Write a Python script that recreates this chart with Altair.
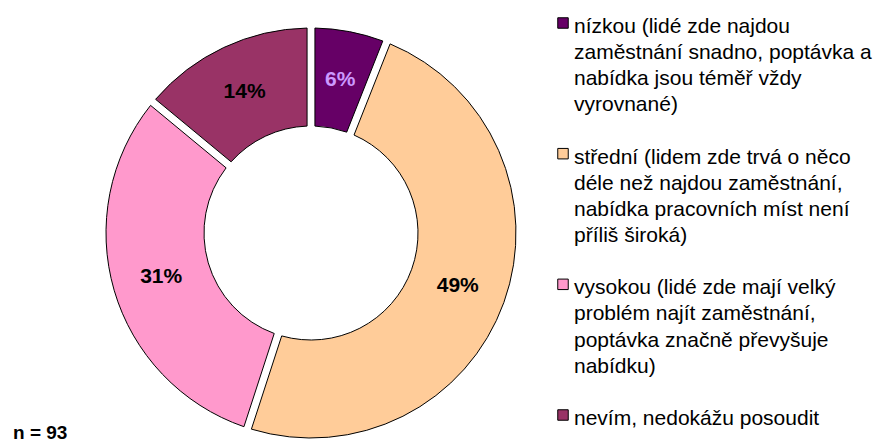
import altair as alt
import pandas as pd

categories = [
    "nízkou (lidé zde najdou|zaměstnání snadno, poptávka a|nabídka jsou téměř vždy|vyrovnané)",
    "střední (lidem zde trvá o něco|déle než najdou zaměstnání,|nabídka pracovních míst není|příliš široká)",
    "vysokou (lidé zde mají velký|problém najít zaměstnání,|poptávka značně převyšuje|nabídku)",
    "nevím, nedokážu posoudit",
]
values = [6, 49, 31, 14]
labels = ["6%", "49%", "31%", "14%"]
slice_colors = ["#660066", "#FFCC99", "#FF99CC", "#993366"]
label_colors = ["#CC99FF", "#000000", "#000000", "#000000"]
note = "n = 93"

FONT = "Liberation Sans"

df = pd.DataFrame({
    "cat": categories,
    "value": values,
    "label": labels,
    "lc": label_colors,
    "idx": list(range(len(values))),
})

# legend rows: one row per text line; each entry takes its lines plus one blank line
rows = []
for i, c in enumerate(categories):
    for j, line in enumerate(c.split("|")):
        rows.append({"cat": c, "line": line, "pos": i * 5 + j, "first": j == 0})
leg = pd.DataFrame(rows)

color_scale = alt.Scale(domain=categories, range=slice_colors)
pos_scale = alt.Scale(domain=[0, 15], range=[-6, 386])

base = alt.Chart(df).encode(
    theta=alt.Theta("value:Q", stack=True),
    order=alt.Order("idx:Q"),
)

ring = base.mark_arc(
    outerRadius=205, innerRadius=107, padAngle=0.034,
    stroke="black", strokeWidth=1,
).encode(
    color=alt.Color("cat:N", scale=color_scale, legend=None),
)

pct = base.mark_text(
    radius=156, font=FONT, fontSize=21, fontWeight="bold",
).encode(
    text="label:N",
    detail="cat:N",
    fill=alt.Fill("lc:N", scale=None),
)

leg_sym = alt.Chart(leg).transform_filter("datum.first").mark_square(
    size=110, stroke="black", strokeWidth=1, opacity=1,
).encode(
    x=alt.value(462),
    y=alt.Y("pos:Q", scale=pos_scale, axis=None),
    yOffset=alt.value(-4),
    color=alt.Color("cat:N", scale=color_scale, legend=None),
)

leg_txt = alt.Chart(leg).mark_text(
    font=FONT, fontSize=21, align="left", baseline="middle", color="black",
).encode(
    x=alt.value(473),
    y=alt.Y("pos:Q", scale=pos_scale, axis=None),
    text="line:N",
)

n_text = alt.Chart(pd.DataFrame({"t": [note]})).mark_text(
    font=FONT, fontSize=19, fontWeight="bold", align="left", baseline="alphabetic",
).encode(
    text="t:N",
    x=alt.value(-88),
    y=alt.value(406),
)

chart = alt.layer(ring, pct, leg_sym, leg_txt, n_text).properties(
    width=420, height=400,
    padding={"left": 5, "top": 7, "right": 2, "bottom": 0},
).configure_view(stroke=None)

chart.save("out.html", embed_options={"renderer": "svg", "actions": False})
